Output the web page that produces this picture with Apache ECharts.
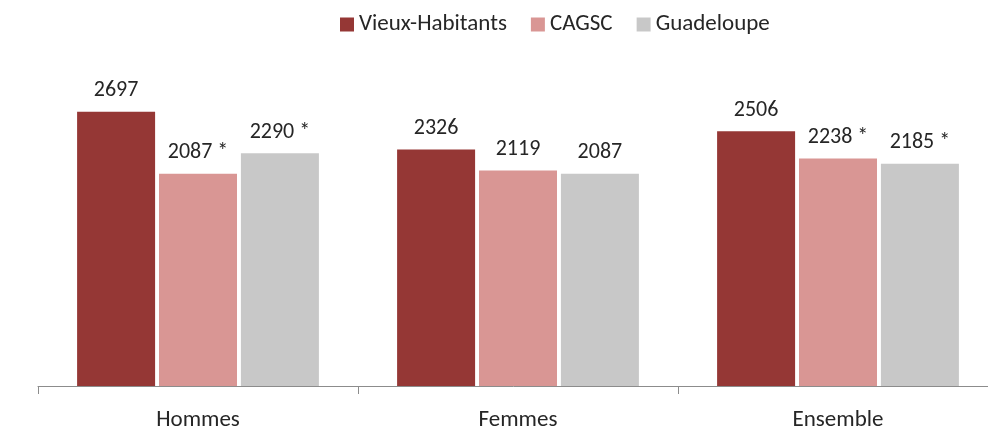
<!DOCTYPE html>
<html>
<head>
<meta charset="utf-8">
<script src="https://cdn.jsdelivr.net/npm/echarts@6/dist/echarts.min.js"></script>
<style>
html,body{margin:0;padding:0;background:#fff;}
#chart{width:988px;height:428px;}
</style>
</head>
<body>
<div id="chart"></div>
<script>
var categories = ['Hommes', 'Femmes', 'Ensemble'];
var seriesNames = ['Vieux-Habitants', 'CAGSC', 'Guadeloupe'];
var vieuxHabitants = [2697, 2326, 2506];
var cagsc = [2087, 2119, 2238];
var guadeloupe = [2290, 2087, 2185];
// significance marks (asterisk) shown after the value
var vieuxHabitantsSig = [false, false, false];
var cagscSig = [true, false, true];
var guadeloupeSig = [true, false, true];

var colors = ['#953735', '#D99694', '#C8C8C8'];
var FONT = 'Carlito, Lato, sans-serif';
var TEXT = '#262626';

function mkSeries(name, values, sig, color) {
  return {
    name: name,
    type: 'bar',
    barWidth: 78,
    barGap: '5%',
    itemStyle: { color: color },
    label: {
      show: true,
      position: 'top',
      distance: 10,
      color: TEXT,
      fontFamily: FONT,
      fontSize: 22,
      formatter: function (p) {
        return p.value + (sig[p.dataIndex] ? ' *' : '');
      }
    },
    data: values
  };
}

var chart = echarts.init(document.getElementById('chart'));
chart.setOption({
  animation: false,
  color: colors,
  legend: {
    top: 8,
    left: 335,
    itemWidth: 14,
    itemHeight: 14,
    itemGap: 24,
    icon: 'rect',
    textStyle: { color: TEXT, fontFamily: FONT, fontSize: 23 },
    data: seriesNames
  },
  grid: { left: 38, width: 960, top: 81, bottom: 42, containLabel: false, outerBoundsMode: 'none' },
  xAxis: {
    type: 'category',
    data: categories,
    axisLine: { lineStyle: { color: '#8c8c8c', width: 1 } },
    axisTick: { show: true, length: 8, lineStyle: { color: '#8c8c8c' } },
    axisLabel: { color: TEXT, fontFamily: FONT, fontSize: 23, margin: 23 }
  },
  yAxis: {
    type: 'value',
    min: 0,
    max: 3000,
    show: false,
    splitLine: { show: false }
  },
  series: [
    mkSeries(seriesNames[0], vieuxHabitants, vieuxHabitantsSig, colors[0]),
    mkSeries(seriesNames[1], cagsc, cagscSig, colors[1]),
    mkSeries(seriesNames[2], guadeloupe, guadeloupeSig, colors[2])
  ]
});
</script>
</body>
</html>
